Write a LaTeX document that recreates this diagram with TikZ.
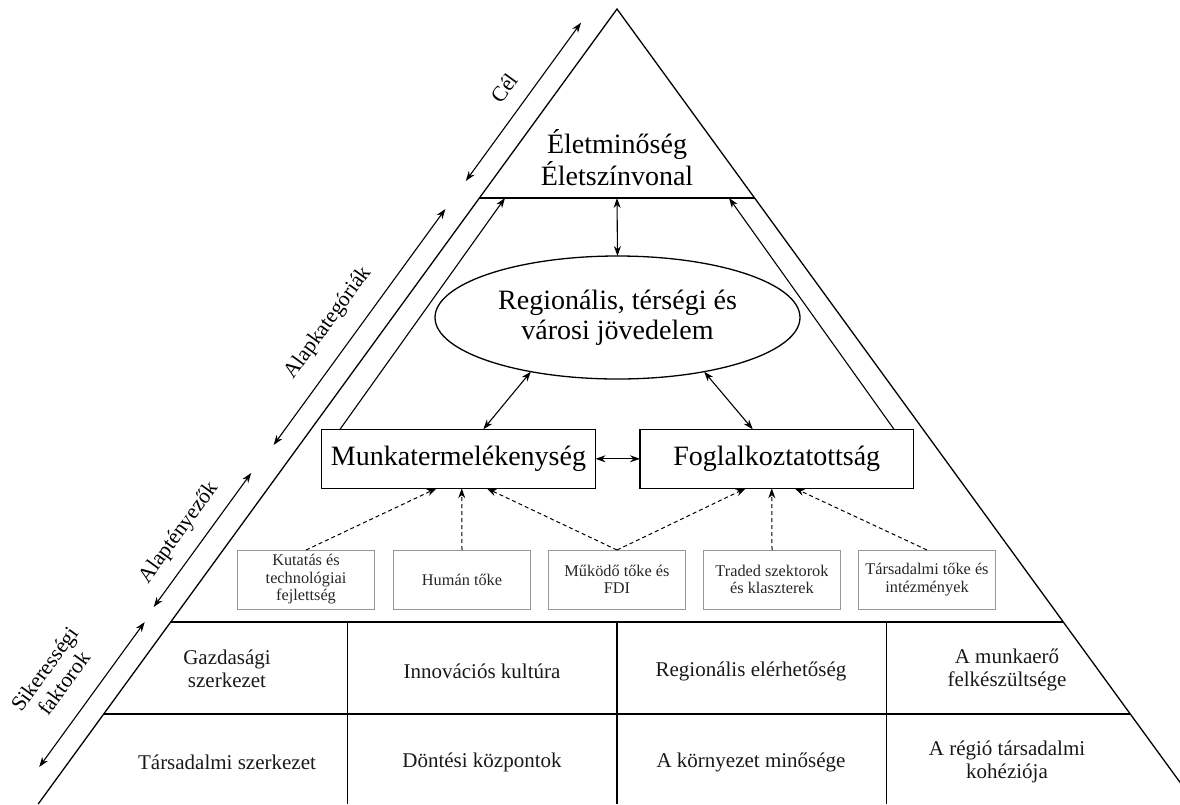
\documentclass[tikz,border=0pt]{standalone}
\usepackage{fontspec}
\setmainfont{Liberation Serif}
\usetikzlibrary{shapes.geometric,arrows.meta,calc}
\begin{document}
\begin{tikzpicture}[x=1pt,y=-1pt,
 every node/.style={inner sep=0pt, outer sep=0pt},
 line/.style={line width=1.3pt, black},
 arr/.style={line width=1.1pt, {Stealth[length=10pt,width=7pt]}-{Stealth[length=10pt,width=7pt]}},
 sarr/.style={line width=1.1pt, -{Stealth[length=10pt,width=7pt]}},
 dasharr/.style={line width=1pt, dash pattern=on 4pt off 3pt, -{Stealth[length=10pt,width=7pt]}},
 bigbox/.style={draw, line width=1.3pt, minimum height=59pt, font=\fontsize{28}{31}\selectfont},
 smallbox/.style={draw=black!40, line width=1pt, minimum width=137pt, minimum height=59pt, align=center, text=black!85, font=\fontsize{16.3}{17.5}\selectfont},
 cell/.style={align=center, text=black!90, font=\fontsize{21}{23}\selectfont},
 sidelabel/.style={rotate=53.94, align=center, font=\fontsize{21.5}{24}\selectfont},
]
\useasboundingbox (0,0) rectangle (1180,804);
\begin{scope}
\clip (0,0) rectangle (1180,804);
\draw[line] (38.2,804) -- (617,9) -- (1195.8,804);
\end{scope}
\draw[line] (479.4,198) -- (754.6,198);
\coordinate (tl) at (505,198);
\coordinate (tm) at (617,198);
\coordinate (tr) at (729,198);

\node[align=center, font=\fontsize{28}{32}\selectfont] (goal) at (617,158) {Életminőség\\Életszínvonal};
\node[ellipse, draw, line width=1.3pt, minimum width=365pt, minimum height=123pt, align=center, font=\fontsize{28}{30}\selectfont] (reg) at (617.5,317.5) {Regionális, térségi és\\városi jövedelem};

\node[bigbox, minimum width=274pt] (munk) at (458.5,458.8) {Munkatermelékenység};
\node[bigbox, minimum width=273.5pt] (fogl) at (776.75,458.8) {Foglalkoztatottság};

\node[smallbox] (k1) at (306,579.5) {Kutatás és\\technológiai\\fejlettség};
\node[smallbox] (k2) at (462,579.5) {Humán tőke};
\node[smallbox] (k3) at (617,579.5) {Működő tőke és\\FDI};
\node[smallbox] (k4) at (772,579.5) {Traded szektorok\\és klaszterek};
\node[smallbox] (k5) at (927,579.5) {Társadalmi tőke és\\intézmények};

\draw[arr] (tm) -- (reg.north);
\draw[sarr] ($(munk.north west)+(18.5,0)$) -- (tl);
\draw[sarr] ($(fogl.north east)+(-19.5,0)$) -- (tr);
\draw[arr] (reg.212) -- ($(munk.north)+(24.8,0)$);
\draw[arr] (reg.328) -- ($(fogl.north)+(-24,0)$);
\draw[arr] (munk.east) -- (fogl.west);

\draw[dasharr] (k1.north) -- ($(munk.south)+(-21.8,0)$);
\draw[dasharr] (k2.north) -- ($(munk.south)+(3.2,0)$);
\draw[dasharr] (k3.north) -- ($(munk.south)+(28.2,0)$);
\draw[dasharr] (k3.north) -- ($(fogl.south)+(-31,0)$);
\draw[dasharr] (k4.north) -- ($(fogl.south)+(-5,0)$);
\draw[dasharr] (k5.north) -- ($(fogl.south)+(18,0)$);

\draw[line] (170.7,622) -- (1063.3,622);
\draw[line] (103.8,714) -- (1130.2,714);
\draw[line] (347.5,622) -- (347.5,804);
\draw[line] (617,622) -- (617,804);
\draw[line] (886.7,622) -- (886.7,804);

\node[cell] (c11) at (227,669) {Gazdasági\\szerkezet};
\node[cell] (c12) at (482,671) {Innovációs kultúra};
\node[cell] (c13) at (751,671) {Regionális elérhetőség};
\node[cell] (c14) at (1007,670) {A munkaerő\\felkészültsége};
\node[cell] (c21) at (227,762) {Társadalmi szerkezet};
\node[cell] (c22) at (482,762) {Döntési központok};
\node[cell] (c23) at (751,762) {A környezet minősége};
\node[cell] (c24) at (1007,762) {A régió társadalmi\\kohéziója};

\coordinate (a1) at (581.0,22.7);
\coordinate (a2) at (465.8,181);
\coordinate (b1) at (445.4,209);
\coordinate (b2) at (273.6,445);
\coordinate (d1) at (251.2,473);
\coordinate (d2) at (153.7,607);
\coordinate (e1) at (144.7,622);
\coordinate (e2) at (39.2,767);
\draw[arr] (a1) -- (a2);
\draw[arr] (b1) -- (b2);
\draw[arr] (d1) -- (d2);
\draw[arr] (e1) -- (e2);

\node[sidelabel] (lcel) at (504,88) {Cél};
\node[sidelabel] (lkat) at (328,323) {Alapkategóriák};
\node[sidelabel] (lteny) at (179,533) {Alaptényezők};
\node[sidelabel] (lsik) at (54,676) {Sikerességi\\faktorok};
\end{tikzpicture}
\end{document}
